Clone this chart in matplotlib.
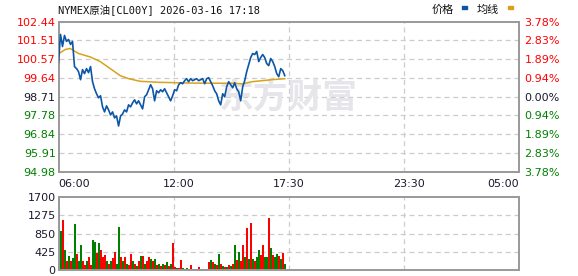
import numpy as np
import matplotlib
matplotlib.use("Agg")
import matplotlib.pyplot as plt

plt.rcParams["font.family"] = ["DejaVu Sans", "Noto Sans CJK SC"]

# quote header
title = "NYMEX原油[CL00Y] 2026-03-16 17:18"
prev_close = 98.71

# price every 6 minutes from 06:00 up to 17:18
price = [
    100.40, 101.80, 101.20, 101.75, 101.45, 101.55, 101.30, 101.45, 100.20, 100.10,
    99.95, 99.55, 100.05, 99.85, 100.10, 99.90, 100.20, 99.45, 99.10, 98.85,
    98.65, 98.75, 98.20, 97.95, 98.25, 98.05, 97.80, 97.95, 97.65, 97.75,
    97.25, 97.75, 97.85, 98.05, 97.95, 98.30, 98.20, 98.40, 98.55, 98.35,
    98.50, 98.30, 98.10, 98.70, 98.80, 99.05, 99.30, 99.10, 98.50, 99.00,
    98.90, 99.05, 98.95, 99.10, 98.90, 98.70, 98.50, 98.75, 99.05, 99.00,
    99.30, 99.40, 99.35, 99.50, 99.60, 99.45, 99.60, 99.50, 99.55, 99.60,
    99.50, 99.55, 99.60, 99.35, 99.60, 99.65, 99.45, 99.25, 99.00, 98.85,
    98.50, 98.30, 98.85, 98.70, 99.20, 99.45, 99.30, 99.15, 99.40, 99.10,
    98.95, 98.50, 99.20, 99.50, 99.95, 100.30, 100.65, 100.85, 100.80, 100.95,
    100.45, 100.65, 100.80, 100.65, 100.35, 100.25, 100.60, 100.45, 100.20, 99.85,
    99.70, 100.10, 100.00, 99.75,
]

# average price line (minute after 06:00, value)
avg_min = [3, 20, 35, 60, 95, 125, 155, 185, 210, 245, 300, 400, 530, 550, 580, 640, 678]
avg_val = [100.86, 101.05, 101.10, 100.85, 100.68, 100.45, 100.10, 99.75, 99.60,
           99.47, 99.42, 99.38, 99.37, 99.34, 99.45, 99.55, 99.60]

# volume per 6 minutes, r = up, g = down
volume = [
    1590, 900, 1160, 460, 200, 330, 200, 270, 1070, 370,
    200, 580, 200, 120, 200, 300, 120, 700, 650, 400,
    640, 470, 300, 350, 200, 150, 200, 280, 420, 150,
    1000, 300, 200, 300, 150, 120, 380, 200, 150, 100,
    200, 320, 320, 150, 200, 300, 250, 200, 250, 120,
    150, 100, 140, 120, 190, 100, 130, 640, 80, 50,
    40, 230, 50, 30, 40, 30, 110, 30, 20, 20,
    80, 20, 20, 20, 20, 195, 235, 180, 150, 120,
    370, 150, 100, 60, 80, 120, 100, 150, 580, 230,
    430, 200, 580, 300, 985, 250, 1090, 250, 200, 300,
    465, 350, 580, 300, 310, 1220, 505, 350, 300, 365,
    330, 250, 390, 150,
]
vol_dir = ("ggrgrgrggr" "ggrrgrrggr" "grrrgrgrrg" "grgrgrrgrg" "rgrgrrgrgr"
           "grgrgrgrrg" "rrgrgrrgrg" "rgrgrrgrgr" "grgrgrgrgr" "grrgrgrgrg"
           "grrggrgrgg" "rgrg")

y_ticks = [94.98, 95.91, 96.84, 97.78, 98.71, 99.64, 100.57, 101.51, 102.44]
pct_ticks = ["3.78%", "2.83%", "1.89%", "0.94%", "0.00%", "0.94%", "1.89%", "2.83%", "3.78%"]
x_tick_min = [0, 360, 690, 1050, 1380]
x_tick_lab = ["06:00", "12:00", "17:30", "23:30", "05:00"]
vol_ticks = [0, 425, 850, 1275, 1700]

RED = "#ff0000"
GREEN = "#008000"
DARK = "#1a1a2e"
FRAME = "#999999"
GRID = "#cccccc"

minutes = np.arange(len(price)) * 6

fig = plt.figure(figsize=(5.78, 2.76), dpi=100)
ax = fig.add_axes([58.5 / 578, 104.3 / 276, 460.5 / 578, 150.2 / 276])
axv = fig.add_axes([58.5 / 578, 6 / 276, 460.5 / 578, 73 / 276])

for a in (ax, axv):
    a.set_xlim(0, 1380)
    for s in a.spines.values():
        s.set_color(FRAME)
        s.set_linewidth(1.4)
    for gx in (345, 690, 1035):
        a.axvline(gx, color=GRID, lw=0.9, ls=(0, (4, 3)), zorder=0)
    a.tick_params(length=0)

# price panel
ax.set_ylim(y_ticks[0], y_ticks[-1])
for gy in y_ticks[1:-1]:
    ax.axhline(gy, color=GRID, lw=0.9, ls=(0, (4, 3)), zorder=0)
ax.text(0.5, 0.5, "东方财富", transform=ax.transAxes, fontsize=25, color="#e6e6ea",
        fontweight="bold", ha="center", va="center", zorder=0,
        family=["Noto Sans CJK SC"])
ax.plot(avg_min, avg_val, color="#d9a21b", lw=1.1, zorder=2)
ax.plot(minutes, price, color="#0d56a6", lw=1.2, zorder=3)

ax.set_yticks(y_ticks)
ax.set_yticklabels([f"{v:.2f}" for v in y_ticks], fontsize=8)
ax.tick_params(axis="y", pad=2)
for lab, v in zip(ax.get_yticklabels(), y_ticks):
    lab.set_color(RED if v > prev_close else (GREEN if v < prev_close else DARK))

ax.set_xticks(x_tick_min)
ax.set_xticklabels(x_tick_lab, fontsize=8, color=DARK)
ax.tick_params(axis="x", pad=5)
xl = ax.get_xticklabels()
xl[0].set_ha("left")
xl[-1].set_ha("right")

axr = ax.twinx()
axr.set_ylim(ax.get_ylim())
axr.set_yticks(y_ticks)
axr.set_yticklabels(pct_ticks, fontsize=8)
axr.tick_params(length=0, pad=4)
for s in axr.spines.values():
    s.set_visible(False)
for lab, v in zip(axr.get_yticklabels(), y_ticks):
    lab.set_color(RED if v > prev_close else (GREEN if v < prev_close else DARK))

# volume panel
axv.set_ylim(0, 1700)
for gy in vol_ticks[1:-1]:
    axv.axhline(gy, color=GRID, lw=0.9, ls=(0, (4, 3)), zorder=0)
colors = [RED if d == "r" else GREEN for d in vol_dir]
axv.bar(minutes, volume, width=6, color=colors, linewidth=0, zorder=2)
axv.set_yticks(vol_ticks)
axv.set_yticklabels([str(v) for v in vol_ticks], fontsize=8, color=DARK)
axv.tick_params(axis="y", pad=2)
axv.set_xticks([])

# header
fig.text(58 / 578, 1 - 10 / 276, title, fontsize=7.5, va="center", ha="left",
         family=["DejaVu Sans Mono", "Noto Sans CJK SC"], color="#111111")
fig.text(432 / 578, 1 - 10 / 276, "价格", fontsize=8, va="center", ha="left",
         family=["Noto Sans CJK SC"], color="#111111")
fig.text(477 / 578, 1 - 10 / 276, "均线", fontsize=8, va="center", ha="left",
         family=["Noto Sans CJK SC"], color="#111111")
fig.patches.append(plt.Rectangle((462 / 578, 1 - 8.5 / 276), 5 / 578, 2.5 / 276,
                                 transform=fig.transFigure, color="#0d56a6"))
fig.patches.append(plt.Rectangle((508 / 578, 1 - 8.5 / 276), 5 / 578, 2.5 / 276,
                                 transform=fig.transFigure, color="#d9a21b"))

fig.savefig("out.png", dpi=100, facecolor="white")
